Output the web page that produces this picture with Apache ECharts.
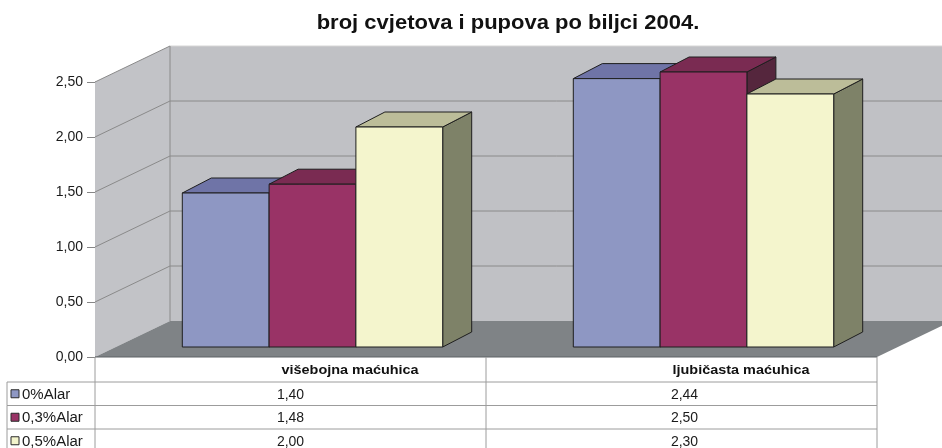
<!DOCTYPE html>
<html>
<head>
<meta charset="utf-8">
<title>broj cvjetova i pupova po biljci 2004.</title>
<script src="https://cdn.jsdelivr.net/npm/echarts@6/dist/echarts.min.js"></script>
<style>
  html, body { margin: 0; padding: 0; background: #fff; }
  #main { width: 942px; height: 448px; }
</style>
</head>
<body>
<div id="main"></div>
<script>
// podaci
var categories = ['višebojna maćuhica', 'ljubičasta maćuhica'];
var seriesNames = ['0%Alar', '0,3%Alar', '0,5%Alar'];
var alar0 = [1.40, 2.44];
var alar03 = [1.48, 2.50];
var alar05 = [2.00, 2.30];
var yTicks = [0, 0.5, 1, 1.5, 2, 2.5];
var chartTitle = 'broj cvjetova i pupova po biljci 2004.';

var values = [alar0, alar03, alar05];

// boje: prednja, gornja, bocna strana
var palette = [
  { front: '#8e97c3', top: '#6f74a7', side: '#4e5378' },
  { front: '#993366', top: '#7a2b52', side: '#55263d' },
  { front: '#f4f5cd', top: '#bcbd99', side: '#7e8268' }
];

var WALL_D = [75, -36];   // dubina zidova
var BAR_OFF = [22, -10];  // pomak stupaca od prednje ravnine
var BAR_D = [29, -15];    // dubina stupca
var HEAD_H = 25, ROW_H = 23.5, LEG_X = 7;
var FONT = 'Liberation Sans, Arial, sans-serif';

function fmt(v) { return v.toFixed(2).replace('.', ','); }

function seg(x1, y1, x2, y2, color) {
  return { type: 'line', shape: { x1: x1, y1: y1, x2: x2, y2: y2 }, style: { stroke: color, lineWidth: 1 } };
}

function renderFrame(params, api) {
  var cs = params.coordSys;
  var L = cs.x, R = cs.x + cs.width, T = cs.y, B = cs.y + cs.height;
  var dx = WALL_D[0], dy = WALL_D[1];
  var kids = [];
  kids.push({ type: 'rect', shape: { x: L + dx, y: T + dy, width: R - L, height: B - T }, style: { fill: '#c0c1c5' } });
  kids.push({ type: 'polygon', shape: { points: [[L, T], [L + dx, T + dy], [L + dx, B + dy], [L, B]] }, style: { fill: '#c2c3c7' } });
  yTicks.forEach(function (t) {
    if (t === 0) return;
    var y = api.coord([0, t])[1];
    var top = t === yTicks[yTicks.length - 1];
    kids.push(seg(L, y, L + dx, y + dy, '#8a8a8a'));
    kids.push(seg(L + dx, y + dy, R + dx, y + dy, top ? '#d6d6d6' : '#8a8a8a'));
  });
  kids.push(seg(L + dx, T + dy, L + dx, B + dy, '#8a8a8a'));
  kids.push({ type: 'polygon', shape: { points: [[L, B], [R, B], [R + dx, B + dy], [L + dx, B + dy]] }, style: { fill: '#7f8386' } });
  kids.push(seg(L, B, R, B, '#5f6366'));
  return { type: 'group', children: kids };
}

function makeBar(si) {
  return function (params, api) {
    var c = api.value(0), v = api.value(1);
    var p0 = api.coord([c, 0]), p1 = api.coord([c, v]);
    var w = api.size([1, 0])[0] * 0.222;
    var x0 = p0[0] + BAR_OFF[0] - 1.5 * w + si * w, x1 = x0 + w;
    var yb = p0[1] + BAR_OFF[1], yt = p1[1] + BAR_OFF[1];
    var dx = BAR_D[0], dy = BAR_D[1];
    var col = palette[si];
    function st(fill) { return { fill: fill, stroke: '#1e1e1e', lineWidth: 1, lineJoin: 'round' }; }
    return { type: 'group', children: [
      { type: 'polygon', shape: { points: [[x1, yb], [x1 + dx, yb + dy], [x1 + dx, yt + dy], [x1, yt]] }, style: st(col.side) },
      { type: 'polygon', shape: { points: [[x0, yt], [x0 + dx, yt + dy], [x1 + dx, yt + dy], [x1, yt]] }, style: st(col.top) },
      { type: 'rect', shape: { x: x0, y: yt, width: w, height: yb - yt }, style: st(col.front) }
    ] };
  };
}

function renderRow(params, api) {
  var r = api.value(0);
  var cs = params.coordSys;
  var L = cs.x, R = cs.x + cs.width, B = cs.y + cs.height;
  var yTop = B + HEAD_H + r * ROW_H, yMid = yTop + ROW_H / 2;
  var lc = '#9c9c9c';
  var kids = [];
  kids.push(seg(LEG_X, yTop, R, yTop, lc));
  kids.push(seg(LEG_X, yTop, LEG_X, yTop + ROW_H, lc));
  kids.push({ type: 'rect', shape: { x: LEG_X + 4, y: yMid - 4, width: 8, height: 8 },
    style: { fill: palette[r].front, stroke: '#2a2a2a', lineWidth: 1 } });
  kids.push({ type: 'text', x: LEG_X + 15, y: yMid + 1, scaleX: 1.07,
    style: { text: seriesNames[r], x: 0, y: 0, align: 'left', verticalAlign: 'middle',
      fill: '#1a1a1a', fontSize: 14, fontFamily: FONT } });
  var xs = categories.map(function (cat, c) { return api.coord([c, 0])[0]; });
  categories.forEach(function (cat, c) {
    kids.push({ type: 'text', style: { text: fmt(api.value(c + 1)), x: xs[c] + c * 3, y: yMid + 1, align: 'center', verticalAlign: 'middle',
      fill: '#1a1a1a', fontSize: 14, fontFamily: FONT } });
  });
  if (r === 0) {
    var edges = [L];
    for (var i = 1; i < xs.length; i++) edges.push((xs[i - 1] + xs[i]) / 2);
    edges.push(R);
    edges.forEach(function (x) { kids.push(seg(x, B, x, 460, lc)); });
    categories.forEach(function (cat, c) {
      kids.push({ type: 'text', x: xs[c] - 9, y: B + 13.5, scaleX: 1.11,
        style: { text: cat, x: 0, y: 0, align: 'left', verticalAlign: 'middle',
          fill: '#111', fontSize: 13, fontWeight: 'bold', fontFamily: FONT } });
    });
  }
  return { type: 'group', children: kids };
}

var tableData = seriesNames.map(function (n, i) { return [i].concat(values[i]); });

var series = [{
  type: 'custom',
  name: 'frame',
  renderItem: renderFrame,
  data: [[0, 0]],
  z: 1,
  silent: true
}];
seriesNames.forEach(function (name, si) {
  series.push({
    type: 'custom',
    name: name,
    renderItem: makeBar(si),
    data: categories.map(function (c, ci) { return [ci, values[si][ci]]; }),
    z: 2 + si
  });
});
series.push({
  type: 'custom',
  name: 'table',
  renderItem: renderRow,
  data: tableData,
  z: 10,
  silent: true
});

var myChart = echarts.init(document.getElementById('main'));
var option = {
  animation: false,
  backgroundColor: '#fff',
  graphic: [{
    type: 'text',
    x: 508,
    y: 23,
    scaleX: 1.1,
    style: { text: chartTitle, x: 0, y: 0, align: 'center', verticalAlign: 'middle',
      fontFamily: FONT, fontSize: 20, fontWeight: 'bold', fill: '#111' }
  }],
  grid: { left: 95, right: 65, top: 82, bottom: 91 },
  xAxis: {
    type: 'category',
    data: categories,
    axisLine: { show: false },
    axisTick: { show: false },
    axisLabel: { show: false }
  },
  yAxis: {
    type: 'value',
    min: 0,
    max: 2.5,
    interval: 0.5,
    axisLine: { show: true, lineStyle: { color: '#868686' } },
    axisTick: { show: true, length: 8, lineStyle: { color: '#868686' } },
    axisLabel: { fontFamily: FONT, fontSize: 14, color: '#1a1a1a', margin: 12, formatter: fmt },
    splitLine: { show: false }
  },
  series: series
};
myChart.setOption(option);
</script>
</body>
</html>
